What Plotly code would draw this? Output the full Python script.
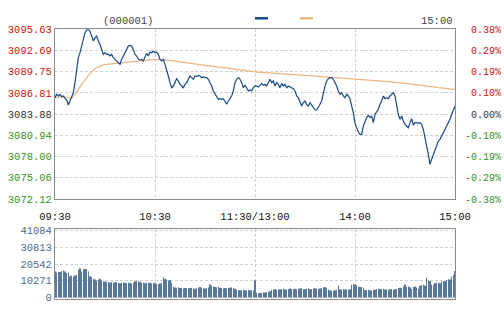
import plotly.graph_objects as go

# ---------------- data ----------------
price = [
    3086.16, 3086.62, 3086.39, 3086.62, 3086.30, 3086.39, 3086.02, 3085.84, 3085.14, 3085.70,
    3086.16, 3086.85, 3088.24, 3090.08, 3091.70, 3092.39, 3093.32, 3094.24, 3095.16, 3095.55,
    3095.60, 3095.39, 3094.70, 3094.01, 3094.47, 3094.70, 3094.01, 3093.55, 3092.85, 3092.16,
    3092.39, 3092.16, 3092.16, 3091.93, 3092.16, 3091.70, 3091.47, 3091.24, 3090.91, 3090.78,
    3091.47, 3091.93, 3092.39, 3092.85, 3093.32, 3093.41, 3093.32, 3092.85, 3092.16, 3091.93,
    3091.47, 3091.38, 3091.47, 3091.24, 3091.93, 3092.30, 3091.93, 3092.49, 3092.39, 3092.62,
    3092.39, 3092.49, 3092.16, 3091.47, 3091.24, 3091.47, 3090.78, 3090.08, 3089.16, 3088.24,
    3087.54, 3087.77, 3088.24, 3088.79, 3088.47, 3088.00, 3087.77, 3087.54, 3088.00, 3088.24,
    3088.70, 3089.16, 3088.93, 3088.70, 3089.16, 3089.07, 3089.25, 3089.16, 3088.93, 3089.07,
    3088.93, 3088.93, 3088.70, 3088.24, 3087.77, 3087.08, 3086.62, 3086.39, 3085.93, 3086.02,
    3085.93, 3086.02, 3085.70, 3085.24, 3085.70, 3086.16, 3086.39, 3087.08, 3088.24, 3088.70,
    3088.93, 3088.70, 3088.24, 3087.54, 3087.87, 3087.54, 3087.08, 3087.22, 3087.08, 3087.54,
    3087.80, 3087.77, 3087.64, 3087.87, 3088.14, 3087.87, 3088.00, 3087.77, 3088.33, 3088.70,
    3088.24, 3088.47, 3087.77, 3088.24, 3088.00, 3087.54, 3088.14, 3087.77, 3088.00, 3087.54,
    3087.77, 3087.68, 3087.54, 3087.40, 3087.08, 3086.39, 3086.16, 3085.47, 3085.00, 3085.47,
    3085.70, 3085.24, 3085.00, 3085.47, 3085.10, 3084.63, 3084.45, 3084.45, 3084.77, 3085.24,
    3085.70, 3086.85, 3087.77, 3088.47, 3088.79, 3088.93, 3088.93, 3088.70, 3088.33, 3087.77,
    3087.08, 3086.62, 3086.85, 3086.39, 3086.16, 3086.62, 3086.39, 3086.02, 3085.00, 3084.08,
    3082.60, 3081.90, 3081.40, 3081.08, 3081.08, 3082.23, 3082.93, 3083.39, 3083.71, 3083.39,
    3083.62, 3082.70, 3083.85, 3084.17, 3084.54, 3085.24, 3085.70, 3086.39, 3086.02, 3086.16,
    3086.02, 3086.39, 3086.62, 3086.85, 3086.39, 3085.00, 3083.85, 3083.16, 3083.62, 3082.93,
    3082.46, 3082.23, 3082.00, 3082.70, 3083.25, 3082.33, 3082.70, 3082.70, 3082.60, 3082.70,
    3082.46, 3081.77, 3080.39, 3079.46, 3078.31, 3076.92, 3077.62, 3078.31, 3079.00, 3079.46,
    3080.16, 3080.39, 3080.85, 3081.31, 3081.77, 3082.23, 3082.70, 3083.16, 3083.85, 3084.31,
    3085.00,
]

avg_min = [0, 5, 10, 12, 14, 16, 18, 20, 22, 24, 26, 28, 31, 35, 40, 45, 50, 55, 60,
           70, 80, 90, 100, 110, 120, 130, 140, 150, 160, 170, 180, 190, 200, 210, 220, 230, 240]
avg_val = [3086.16, 3086.30, 3086.02, 3086.62, 3087.31, 3088.00, 3088.70, 3089.25, 3089.71,
           3090.17, 3090.45, 3090.64, 3090.78, 3090.87, 3091.01, 3091.10, 3091.24, 3091.33,
           3091.47, 3091.28, 3091.01, 3090.64, 3090.36, 3090.04, 3089.74, 3089.57, 3089.44,
           3089.25, 3089.07, 3088.93, 3088.76, 3088.56, 3088.37, 3088.14, 3087.87, 3087.54,
           3087.31]

volume = [
    16000, 15200, 15500, 15600, 16200, 16500, 16000, 15000, 15300,
    13000, 13500, 13000, 13500, 14000,
    17000, 18000, 16000,
    17500,
    17500, 17500, 16000,
    13000,
    12500, 11500, 11000,
    10500, 11000, 11500, 10500, 10000,
    9800, 9500, 9600, 9200, 9400, 9000, 9300, 9500, 9100, 8800, 9200, 9400, 9000, 8700, 9100, 8900, 8600, 9000,
    10000, 10200, 9800, 9600,
    9000, 9200, 8800, 9100, 8900, 9000, 8700, 9100, 8800, 8500,
    8200, 8600, 9000,
    12500,
    11500, 11000, 10500, 10800,
    9000,
    6500, 6200, 6000, 6300, 5800, 6000, 5600, 5900, 5700, 5500, 5800, 6000, 5600, 5400, 5800, 6200, 6400, 6000, 5700,
    5500, 5900, 6200,
    8000,
    7200, 6800, 6500, 6300, 6600, 6000,
    5800, 5600, 5900, 5500, 5700, 6000, 6300, 5800, 5400,
    4800, 4600, 4500, 4400, 4700, 4500, 4300, 4600, 4400, 4500, 4300,
    10600,
    2900, 2700, 2800, 3000, 3200, 3100, 3400, 3600, 3800,
    4600, 4800, 5000, 4700, 5100, 4900, 5200, 5400, 5000, 4800, 5300, 5600, 5200, 5000, 5400, 5100,
    5300, 5500, 5800, 5200, 5000, 5400, 5600, 5300, 5100, 5500, 5700, 5400, 5200, 5600,
    6000, 6200, 6500, 5800,
    4800, 4500, 4200, 4000, 4400, 4600,
    7400,
    5000, 4800, 5200, 4900, 5100, 4700, 5000,
    7800, 8200, 8000, 7500,
    6800, 6500, 6300, 6000,
    4600, 4400, 4700, 4500, 4300, 4600, 4800,
    5200, 5500, 5300, 5000, 5400,
    4900, 5100, 4700, 5000, 5200, 4800, 5000, 5300,
    5800, 6000, 5700,
    6900,
    8000,
    6500, 6800, 6300,
    5300,
    6500, 6700, 6200,
    5300,
    7200, 7500, 7800, 7400,
    12100,
    10600, 10200,
    8000, 7800,
    8800, 9200, 9000, 8700,
    9800, 10200, 10000,
    10800, 11200, 11000,
    12700,
    14000, 16200,
]

minutes = list(range(len(price)))
vol_minutes = list(range(len(volume)))

x_tick_vals = [0, 60, 120, 180, 240]
x_tick_text = ["09:30", "10:30", "11:30/13:00", "14:00", "15:00"]

price_ticks = [3072.12, 3075.06, 3078.00, 3080.94, 3083.88, 3086.81, 3089.75, 3092.69, 3095.63]
price_tick_text = ["3072.12", "3075.06", "3078.00", "3080.94", "3083.88",
                   "3086.81", "3089.75", "3092.69", "3095.63"]
pct_tick_text = ["-0.38%", "-0.29%", "-0.19%", "-0.10%", "0.00%",
                 "0.10%", "0.19%", "0.29%", "0.38%"]
prev_close = 3083.88

vol_ticks = [0, 10271, 20542, 30813, 41084]
vol_tick_text = ["0", "10271", "20542", "30813", "41084"]

# ---------------- styling ----------------
RED = "#cc1111"
GREEN = "#33901a"
NEUTRAL = "#333333"
VOLC = "#5a7898"
FONT = "Liberation Mono"


def col_for(v):
    if v > prev_close + 0.005:
        return RED
    if v < prev_close - 0.005:
        return GREEN
    return NEUTRAL


def span(t, c):
    return '<span style="color:%s">%s</span>' % (c, t)


left_text = [span(t, col_for(v)) for t, v in zip(price_tick_text, price_ticks)]
pct_vals = [(v - prev_close) / prev_close * 100 for v in price_ticks]
right_text = []
for t, v in zip(pct_tick_text, price_ticks):
    lab = t if t.startswith("-") else "\u00a0" + t
    right_text.append(span(lab, col_for(v)))

pct_series = [(p - prev_close) / prev_close * 100 for p in price]
ylo, yhi = price_ticks[0], price_ticks[-1]

fig = go.Figure()
fig.add_trace(go.Scatter(x=avg_min, y=avg_val, mode="lines",
                         line=dict(color="#ebb57f", width=1.2),
                         hoverinfo="skip", xaxis="x", yaxis="y"))
fig.add_trace(go.Scatter(x=minutes, y=price, mode="lines",
                         line=dict(color="#164a86", width=1.2),
                         xaxis="x", yaxis="y"))
fig.add_trace(go.Scatter(x=minutes, y=pct_series, mode="lines",
                         line=dict(color="rgba(0,0,0,0)", width=0),
                         hoverinfo="skip", xaxis="x", yaxis="y3"))
fig.add_trace(go.Bar(x=vol_minutes, y=volume, marker=dict(color=VOLC, line=dict(width=0)),
                     xaxis="x2", yaxis="y2"))

W, H = 504, 313
xd = [55 / W, 455 / W]
grid = dict(showgrid=True, gridcolor="#d0d0d0", griddash="3px,2px", gridwidth=1)
border = dict(showline=True, linecolor="#8a8a8a", linewidth=1, mirror=True)

fig.update_layout(
    width=W, height=H,
    margin=dict(l=0, r=0, t=0, b=0),
    paper_bgcolor="white", plot_bgcolor="white",
    showlegend=False, bargap=0.62,
    font=dict(family=FONT, size=10.5, color="#222222"),
    xaxis=dict(domain=xd, range=[0, 240], tickvals=x_tick_vals, ticktext=x_tick_text,
               ticks="outside", ticklen=7, tickcolor="rgba(0,0,0,0)", zeroline=False,
               automargin=False, anchor="y", tickfont=dict(size=10.5, color="#111111"),
               **grid, **border),
    yaxis=dict(domain=[(H - 199) / H, (H - 29.3) / H], range=[ylo, yhi],
               tickvals=price_ticks, ticktext=left_text, zeroline=False,
               automargin=False, anchor="x", **grid, **border),
    yaxis3=dict(overlaying="y", side="right", anchor="x",
                range=[(ylo - prev_close) / prev_close * 100, (yhi - prev_close) / prev_close * 100],
                tickvals=pct_vals, ticktext=right_text, showgrid=False, zeroline=False,
                ticks="outside", ticklen=7, tickcolor="rgba(0,0,0,0)",
                automargin=False, tickfont=dict(size=10)),
    xaxis2=dict(domain=xd, range=[0, 240], tickvals=x_tick_vals, showticklabels=False,
                zeroline=False, automargin=False, anchor="y2", **grid, **border),
    yaxis2=dict(domain=[(H - 299) / H, (H - 229) / H], range=[-900, 42000],
                tickvals=vol_ticks, ticktext=vol_tick_text, zeroline=False,
                automargin=False, anchor="x2", tickfont=dict(color="#4e6a8c", size=10.5),
                **grid, **border),
)

# header texts and legend keys
fig.add_annotation(x=128 / W, y=(H - 21) / H, xref="paper", yref="paper", text="(000001)",
                   showarrow=False, font=dict(size=10.5, color="#444444"),
                   xanchor="center", yanchor="middle")
fig.add_annotation(x=455 / W, y=(H - 21) / H, xref="paper", yref="paper", text="15:00",
                   showarrow=False, font=dict(size=10.5, color="#444444"),
                   xanchor="right", yanchor="middle")
fig.add_shape(type="line", xref="paper", yref="paper", x0=255 / W, x1=268 / W,
              y0=(H - 18.3) / H, y1=(H - 18.3) / H, line=dict(color="#164a86", width=2.5))
fig.add_shape(type="line", xref="paper", yref="paper", x0=300 / W, x1=313 / W,
              y0=(H - 18.3) / H, y1=(H - 18.3) / H, line=dict(color="#ebb57f", width=2.5))

fig.write_html("out.html")
